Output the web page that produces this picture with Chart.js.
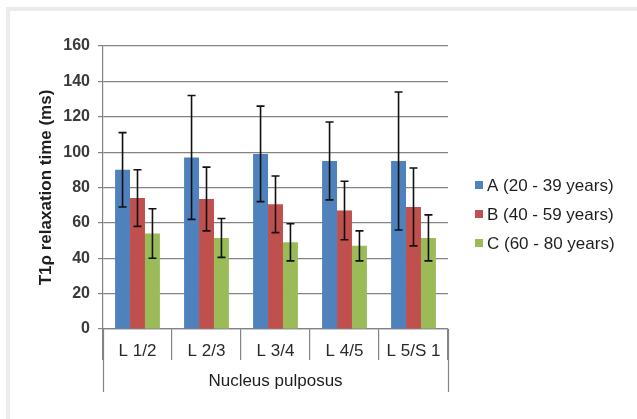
<!DOCTYPE html>
<html>
<head>
<meta charset="utf-8">
<script src="https://cdn.jsdelivr.net/npm/chart.js@4.4.1/dist/chart.umd.min.js"></script>
<style>
  html, body { margin: 0; padding: 0; background: #ffffff; }
  #wrap { position: relative; width: 637px; height: 419px; overflow: hidden; }
  #frame { position: absolute; left: 6px; top: 7px; width: 640px; height: 420px;
           border-top: 4px solid #ebebeb; border-left: 4px solid #ebebeb; box-sizing: border-box; }
  #c { position: absolute; left: 0; top: 0; }
</style>
</head>
<body>
<div id="wrap">
  <div id="frame"></div>
  <canvas id="c" width="637" height="419"></canvas>
</div>
<script>
const categories = ['L 1/2', 'L 2/3', 'L 3/4', 'L 4/5', 'L 5/S 1'];
const seriesLabels = ['A (20 - 39 years)', 'B (40 - 59 years)', 'C (60 - 80 years)'];
const valuesA = [90, 97, 99, 95, 95];
const valuesB = [74, 73.5, 70.5, 67, 69];
const valuesC = [54, 51.5, 49, 47, 51.5];
const errorsA = [21, 35, 27, 22, 39];
const errorsB = [16, 18, 16, 16.5, 22];
const errorsC = [14, 11, 10.5, 8.5, 13];
const yTicks = [0, 20, 40, 60, 80, 100, 120, 140, 160];

const colors = ['#4F81BD', '#C0504D', '#9BBB59'];
const gridColor = '#838383';

Chart.defaults.font.family = '"Liberation Sans", Arial, sans-serif';
Chart.defaults.color = '#333333';

const errorBars = {
  id: 'errorBars',
  afterDatasetsDraw(chart) {
    const ctx = chart.ctx;
    const y = chart.scales.y;
    ctx.save();
    ctx.strokeStyle = '#111111';
    ctx.lineWidth = 1.6;
    chart.data.datasets.forEach((ds, i) => {
      const meta = chart.getDatasetMeta(i);
      meta.data.forEach((el, j) => {
        const v = ds.data[j], e = ds.errors[j];
        const x = el.x;
        const yt = y.getPixelForValue(v + e);
        const yb = y.getPixelForValue(v - e);
        ctx.beginPath();
        ctx.moveTo(x, yt); ctx.lineTo(x, yb);
        ctx.moveTo(x - 4, yt); ctx.lineTo(x + 4, yt);
        ctx.moveTo(x - 4, yb); ctx.lineTo(x + 4, yb);
        ctx.stroke();
      });
    });
    ctx.restore();
  }
};

const extras = {
  id: 'extras',
  afterDraw(chart) {
    const ctx = chart.ctx;
    const x = chart.scales.x;
    const top = chart.chartArea.bottom;
    ctx.save();
    ctx.strokeStyle = gridColor;
    ctx.lineWidth = 1.2;
    [x.left, x.right].forEach(px => {
      const p = Math.round(px) + 0.5;
      ctx.beginPath();
      ctx.moveTo(p, top);
      ctx.lineTo(p, 392);
      ctx.stroke();
    });
    // legend
    const lx = 475, ly0 = 185, step = 29;
    ctx.font = '17px "Liberation Sans", Arial, sans-serif';
    ctx.textBaseline = 'middle';
    ctx.textAlign = 'left';
    chart.data.datasets.forEach((ds, i) => {
      const cy = ly0 + i * step;
      ctx.fillStyle = ds.backgroundColor;
      ctx.fillRect(lx, cy - 4, 8, 8);
      ctx.fillStyle = '#1e1e1e';
      ctx.fillText(ds.label, lx + 12, cy + 1);
    });
    ctx.restore();
  }
};

new Chart(document.getElementById('c'), {
  type: 'bar',
  data: {
    labels: categories,
    datasets: [
      { label: seriesLabels[0], data: valuesA, errors: errorsA, backgroundColor: colors[0] },
      { label: seriesLabels[1], data: valuesB, errors: errorsB, backgroundColor: colors[1] },
      { label: seriesLabels[2], data: valuesC, errors: errorsC, backgroundColor: colors[2] }
    ]
  },
  options: {
    responsive: false,
    animation: false,
    devicePixelRatio: 1,
    layout: { padding: { top: 46, right: 189, bottom: 0, left: 0 } },
    datasets: { bar: { categoryPercentage: 0.65, barPercentage: 1.0 } },
    plugins: { legend: { display: false }, tooltip: { enabled: false } },
    scales: {
      x: {
        grid: { offset: true, drawOnChartArea: false, drawTicks: true, tickLength: 31, color: gridColor, lineWidth: 1.2 },
        border: { display: true, color: gridColor, width: 1.2 },
        ticks: { padding: -19, color: '#2a2a2a', font: { size: 17 } },
        title: { display: true, text: 'Nucleus pulposus', color: '#1e1e1e', font: { size: 17 },
                 padding: { top: 0, bottom: 27 } },
        afterFit(scale) { scale.height = 90; }
      },
      y: {
        min: 0, max: 160,
        afterBuildTicks(scale) { scale.ticks = yTicks.map(v => ({ value: v })); },
        grid: { color: gridColor, tickLength: 5, lineWidth: 1.2 },
        border: { display: true, color: gridColor, width: 1.2 },
        ticks: { padding: 8, color: '#3a3a3a', font: { size: 16, weight: 'bold' } },
        title: { display: true, text: 'T1ρ relaxation time (ms)', color: '#1e1e1e',
                 font: { size: 17, weight: 'bold' }, padding: { top: 36, bottom: 0 } },
        afterFit(scale) { scale.width = 103; }
      }
    }
  },
  plugins: [errorBars, extras]
});
</script>
</body>
</html>
